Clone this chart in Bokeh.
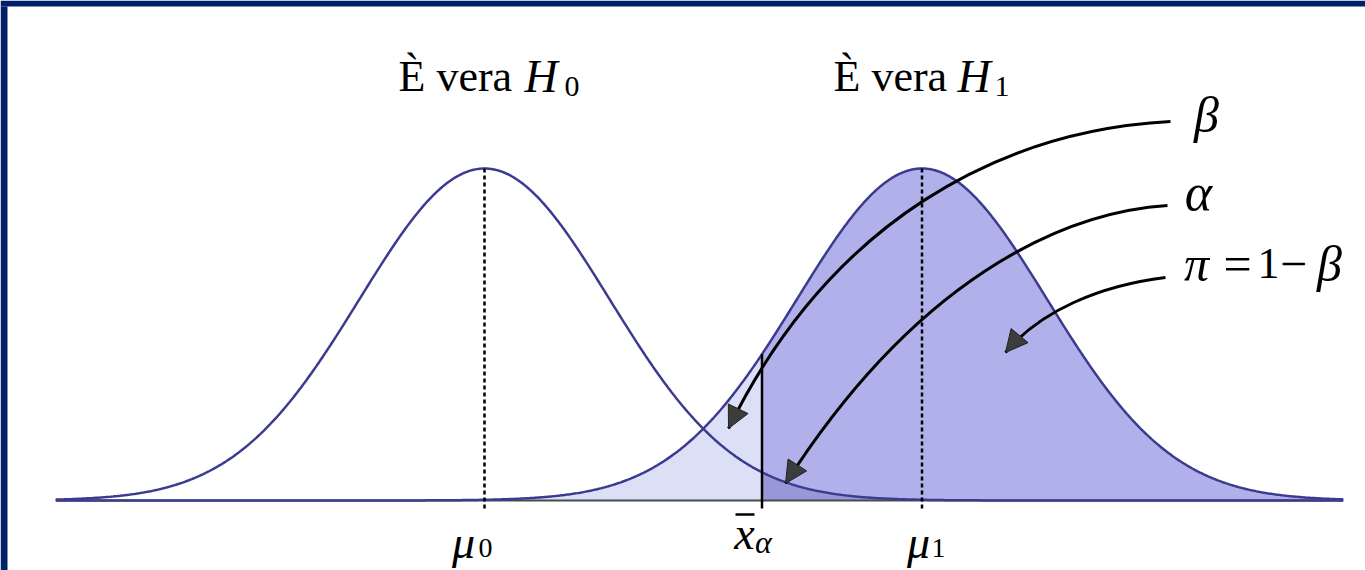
import numpy as np
from bokeh.plotting import figure
from bokeh.models import Range1d, Arrow, NormalHead
from bokeh.core.properties import value
from bokeh.embed import file_html
from bokeh.resources import INLINE

# ---- data ----
mu0 = 0.0          # mean under H0
mu1 = 3.5          # mean under H1
sigma = 1.0        # common standard deviation
xbar_alpha = 2.22  # critical value
x_lo, x_hi = -3.43, 6.87

tick_names = ["μ", "x", "μ"]
tick_subs = ["0", "α", "1"]
titles = ["È vera", "È vera"]
title_subs = ["0", "1"]
greek_labels = ["β", "α"]

# ---- layout helpers (page pixels -> data units) ----
W, H = 1365, 570
BL, BT = 7, 6  # navy frame border (left, top)
NAVY = "#00216A"


def gx(px):
    return (px - 484) / 125


def gy(py):
    return (500 - py) / 332


def dens(x, mu):
    return np.exp(-0.5 * ((np.asarray(x) - mu) / sigma) ** 2)


p = figure(width=W, height=H, output_backend="svg", toolbar_location=None,
           x_range=Range1d(gx(0), gx(W)), y_range=Range1d(gy(H), gy(0)),
           x_axis_type=None, y_axis_type=None, min_border=0,
           min_border_left=0, min_border_top=0, min_border_right=0, min_border_bottom=0)
p.grid.visible = False
p.outline_line_color = None
p.background_fill_color = "white"
p.border_fill_color = "white"

# navy frame (top band only, left band drawn separately)
p.quad(left=[gx(0)], right=[gx(W)], bottom=[gy(BT)], top=[gy(0)],
       fill_color=NAVY, line_color=None)
p.quad(left=[gx(0)], right=[gx(BL)], bottom=[gy(H)], top=[gy(BT)],
       fill_color=NAVY, line_color=None)

xs = np.linspace(x_lo, x_hi, 900)
xl = np.linspace(x_lo, xbar_alpha, 500)
xr = np.linspace(xbar_alpha, x_hi, 500)

# shaded regions
p.varea(x=xl, y1=0, y2=dens(xl, mu1), fill_color="#DCE0F7")
p.varea(x=xr, y1=0, y2=dens(xr, mu1), fill_color="#B0B0EA")
p.varea(x=xr, y1=0, y2=dens(xr, mu0), fill_color="#9898D8")

# baseline
p.line([x_lo, x_hi], [0, 0], line_color="#4a4a4a", line_width=2.2)

# curves
p.line(xs, dens(xs, mu0), line_color="#3B3B8F", line_width=2.5)
p.line(xs, dens(xs, mu1), line_color="#3B3B8F", line_width=2.5)

# dashed means
p.segment(x0=[mu0, mu1], y0=[gy(508)] * 2, x1=[mu0, mu1], y1=[1.0, 1.0],
          line_color="black", line_width=2.5, line_dash="4 3")

# critical value line
p.segment(x0=[xbar_alpha], y0=[gy(508)], x1=[xbar_alpha], y1=[float(dens(xbar_alpha, mu1))],
          line_color="black", line_width=2.5)

# curved arrows (page pixel control points)
arrows = [
    [(1170, 121), (1000, 130), (830, 220), (728, 428)],
    [(1167, 205), (1060, 212), (915, 280), (785, 483)],
    [(1165, 277), (1100, 285), (1040, 310), (1005, 352)],
]
for (a, b, c, d) in arrows:
    p.bezier(x0=[gx(a[0])], y0=[gy(a[1])], x1=[gx(d[0])], y1=[gy(d[1])],
             cx0=[gx(b[0])], cy0=[gy(b[1])], cx1=[gx(c[0])], cy1=[gy(c[1])],
             line_color="black", line_width=3)
    sx = d[0] - 0.15 * (d[0] - c[0])
    sy = d[1] - 0.15 * (d[1] - c[1])
    p.add_layout(Arrow(end=NormalHead(size=22, fill_color="#3c3c3c", line_color="#222222", line_width=1),
                       x_start=gx(sx), y_start=gy(sy), x_end=gx(d[0]), y_end=gy(d[1]),
                       line_alpha=0))

SERIF = value("Liberation Serif")
DY = 14  # correction between requested and rendered baseline


def label(px, py, s, size, style="normal", align="left"):
    p.text(x=[gx(px)], y=[gy(py - DY)], text=[s], text_font=SERIF, text_font_size=f"{size}px",
           text_font_style=style, text_align=align, text_baseline="alphabetic", text_color="black")


# titles
label(398, 90, titles[0], 44)
label(524, 90, "H", 46, "italic")
label(564, 100, title_subs[0], 30)
label(833, 90, titles[1], 44)
label(957, 90, "H", 46, "italic")
label(994, 100, title_subs[1], 30)

# greek labels
label(1206, 128, greek_labels[0], 50, "italic", "center")
label(1198, 206, greek_labels[1], 52, "italic", "center")
label(1196, 277, "π", 50, "italic", "center")
label(1237, 277, "=", 50, "normal", "center")
label(1268, 277, "1", 44, "normal", "center")
label(1293, 277, "−", 48, "normal", "center")
label(1329, 277, "β", 50, "italic", "center")

# tick labels
label(463, 556, tick_names[0], 46, "italic", "center")
label(485, 561, tick_subs[0], 28, "normal", "center")
label(744, 547, tick_names[1], 46, "italic", "center")
p.segment(x0=[gx(735)], y0=[gy(514)], x1=[gx(754)], y1=[gy(514)], line_color="black", line_width=2.5)
label(763, 555, tick_subs[1], 32, "italic", "center")
label(918, 556, tick_names[2], 46, "italic", "center")
label(938, 561, tick_subs[2], 28, "normal", "center")

open("out.html", "w").write(file_html(p, INLINE))
